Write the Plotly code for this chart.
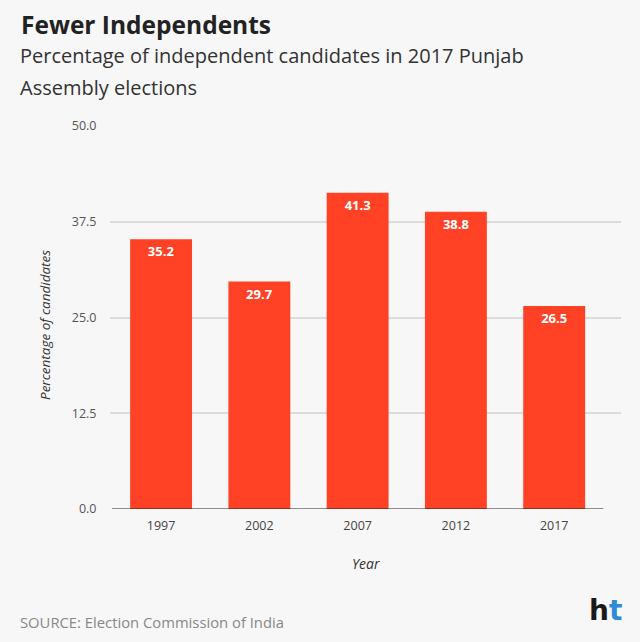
import plotly.graph_objects as go

years = ["1997", "2002", "2007", "2012", "2017"]
values = [35.2, 29.7, 41.3, 38.8, 26.5]
y_ticks = [0, 12.5, 25, 37.5, 50]
y_tick_labels = ["0.0", "12.5", "25.0", "37.5", "50.0"]

BG = "#f7f7f7"
BAR = "#ff4225"
FONT = "Open Sans"

fig = go.Figure()
fig.add_trace(go.Bar(
    x=list(range(len(years))), y=values,
    marker=dict(color=BAR, line=dict(width=0)),
    width=0.63,
    text=[f"<b>{v:.1f}</b>" for v in values],
    textposition="inside", insidetextanchor="end",
    textfont=dict(color="white", size=13, family=FONT),
    textangle=0,
    hoverinfo="skip",
))

# baseline axis line
fig.add_shape(type="line", xref="x", yref="y", x0=-0.5, x1=4.5, y0=0, y1=0,
              line=dict(color="#222222", width=1.2))

fig.update_layout(
    width=640, height=642,
    paper_bgcolor=BG, plot_bgcolor=BG,
    margin=dict(l=110, r=19, t=126, b=133),
    showlegend=False,
    font=dict(family=FONT, color="#555555"),
    xaxis=dict(
        range=[-0.52, 4.68],
        tickmode="array", tickvals=list(range(len(years))), ticktext=years,
        showgrid=False, zeroline=False, showline=False,
        tickfont=dict(size=12.5, color="#444444"),
        ticks="outside", ticklen=5, tickcolor="rgba(0,0,0,0)",
    ),
    yaxis=dict(
        range=[0, 50],
        tickmode="array", tickvals=y_ticks, ticktext=y_tick_labels,
        showgrid=True, gridcolor="#dcdcdc", gridwidth=1.5,
        zeroline=False, showline=False,
        tickfont=dict(size=12.5, color="#555555"),
        ticks="outside", ticklen=10, tickcolor="rgba(0,0,0,0)",
    ),
    annotations=[
        dict(text="<b>Fewer Independents</b>", x=19, y=642-24, xref="paper", yref="paper",
             showarrow=False, xanchor="left", yanchor="middle",
             font=dict(size=24.5, color="#222222", family=FONT)),
        dict(text="Percentage of independent candidates in 2017 Punjab",
             x=18, y=642-55, xref="paper", yref="paper",
             showarrow=False, xanchor="left", yanchor="middle", align="left",
             font=dict(size=20, color="#333333", family=FONT)),
        dict(text="Assembly elections",
             x=18, y=642-87, xref="paper", yref="paper",
             showarrow=False, xanchor="left", yanchor="middle", align="left",
             font=dict(size=20, color="#333333", family=FONT)),
        dict(text="<i>Percentage of candidates</i>", x=45, y=317, xref="paper", yref="paper",
             textangle=-90, showarrow=False, xanchor="center", yanchor="middle",
             font=dict(size=13.5, color="#333333", family=FONT)),
        dict(text="<i>Year</i>", x=366, y=642-563, xref="paper", yref="paper",
             showarrow=False, xanchor="center", yanchor="middle",
             font=dict(size=14, color="#333333", family=FONT)),
        dict(text="SOURCE: Election Commission of India", x=18, y=642-622,
             xref="paper", yref="paper", showarrow=False, xanchor="left", yanchor="middle",
             font=dict(size=14.8, color="#888888", family=FONT)),
        dict(text="<b><span style='color:#1a1a1a'>h</span><span style='color:#2e8bd6'>t</span></b>",
             x=605, y=642-610, xref="paper", yref="paper", showarrow=False,
             xanchor="center", yanchor="middle",
             font=dict(size=28, family="DejaVu Sans", color="#1a1a1a")),
    ],
)

# convert pixel-based annotation coords to paper coords
W, H = 640, 642
l, r, t, b = 110, 19, 126, 133
pw, ph = W - l - r, H - t - b
for a in fig.layout.annotations:
    a.x = (a.x - l) / pw
    a.y = (a.y - b) / ph

fig.write_html("out.html")
